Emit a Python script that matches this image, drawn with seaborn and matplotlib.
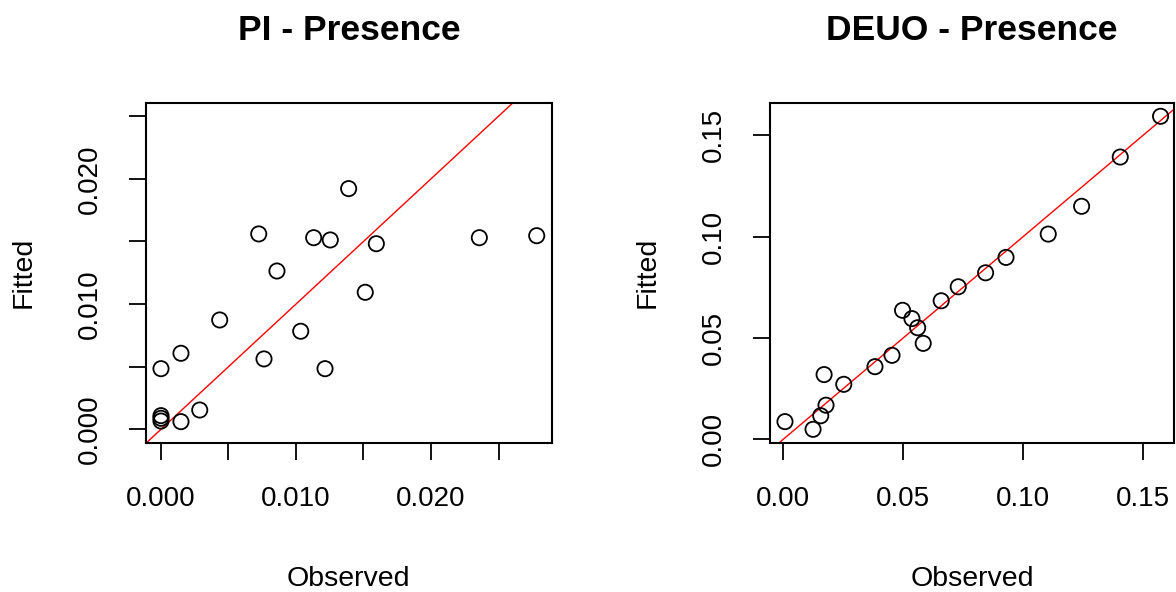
import numpy as np
import pandas as pd
import matplotlib
matplotlib.use("Agg")
import matplotlib.pyplot as plt
import seaborn as sns

# ---- Data: PI - Presence ----
pi_observed = [0.0, 0.0, 0.0, 0.0, 0.00148, 0.00148, 0.00287, 0.00435, 0.00724,
               0.00763, 0.00859, 0.01035, 0.01131, 0.01215, 0.01254, 0.0139,
               0.01513, 0.01595, 0.02358, 0.02783]
pi_fitted = [0.00484, 0.00109, 0.00088, 0.00066, 0.00607, 0.00061, 0.00154, 0.00873,
             0.0156, 0.00562, 0.01264, 0.00783, 0.0153, 0.00484, 0.01512, 0.01922,
             0.01094, 0.01482, 0.0153, 0.01546]

# ---- Data: DEUO - Presence ----
deuo_observed = [0.0007, 0.0124, 0.0156, 0.0170, 0.0178, 0.0252, 0.0382, 0.0453,
                 0.0497, 0.0536, 0.0560, 0.0583, 0.0658, 0.0729, 0.0843, 0.0928,
                 0.1104, 0.1243, 0.1404, 0.1572]
deuo_fitted = [0.0087, 0.0049, 0.0116, 0.0319, 0.0168, 0.0271, 0.0358, 0.0414,
               0.0636, 0.0595, 0.0550, 0.0473, 0.0683, 0.0752, 0.0821, 0.0897,
               0.1012, 0.1149, 0.1392, 0.1593]

titles = ["PI - Presence", "DEUO - Presence"]
pi_xticks = [0.0, 0.005, 0.010, 0.015, 0.020, 0.025]
pi_xticklabels = ["0.000", "", "0.010", "", "0.020", ""]
pi_yticks = [0.0, 0.005, 0.010, 0.015, 0.020, 0.025]
pi_yticklabels = ["0.000", "", "0.010", "", "0.020", ""]
deuo_ticks = [0.0, 0.05, 0.10, 0.15]
deuo_ticklabels = ["0.00", "0.05", "0.10", "0.15"]

sns.set_style("white")
plt.rcParams['font.family'] = ['Liberation Sans', 'DejaVu Sans']
plt.rcParams['text.color'] = 'black'
plt.rcParams['axes.labelcolor'] = 'black'
plt.rcParams['xtick.color'] = 'black'
plt.rcParams['ytick.color'] = 'black'

fig = plt.figure(figsize=(11.76, 5.92), dpi=100)
ax1 = fig.add_axes([146/1176, 149.3/592, 405.7/1176, 340/592])
ax2 = fig.add_axes([770/1176, 149.3/592, 404/1176, 340/592])

panels = [
    (ax1, pi_observed, pi_fitted, titles[0], (-0.00111, 0.02894), (-0.00107, 0.02608),
     pi_xticks, pi_xticklabels, pi_yticks, pi_yticklabels),
    (ax2, deuo_observed, deuo_fitted, titles[1], (-0.00554, 0.1628), (-0.0017, 0.166),
     deuo_ticks, deuo_ticklabels, deuo_ticks, deuo_ticklabels),
]

for ax, obs, fit, title, xl, yl, xt, xtl, yt, ytl in panels:
    df = pd.DataFrame({"Observed": obs, "Fitted": fit})
    sns.scatterplot(data=df, x="Observed", y="Fitted", ax=ax, s=120, marker="o",
                    facecolor="none", edgecolor="black", linewidth=1.3, zorder=3)
    ax.axline((0, 0), slope=1, color="red", linewidth=1.0, zorder=2)
    ax.set_xlim(*xl)
    ax.set_ylim(*yl)
    ax.set_xticks(xt)
    ax.set_xticklabels(xtl)
    ax.set_yticks(yt)
    ax.set_yticklabels(ytl, rotation=90, va="center")
    ax.tick_params(axis="both", direction="out", length=12, width=1.3, colors="black",
                   labelcolor="black", labelsize=20, pad=19, bottom=True, left=True)
    for sp in ax.spines.values():
        sp.set_visible(True)
        sp.set_color("black")
        sp.set_linewidth(1.5)
    ax.set_title(title, fontsize=25.5, fontweight="bold", pad=45, color="black")
    ax.set_xlabel("Observed", fontsize=20.5, labelpad=39, color="black")
    ax.set_ylabel("Fitted", fontsize=20.5, labelpad=29, color="black")

fig.savefig("out.png", dpi=100, facecolor="white")
